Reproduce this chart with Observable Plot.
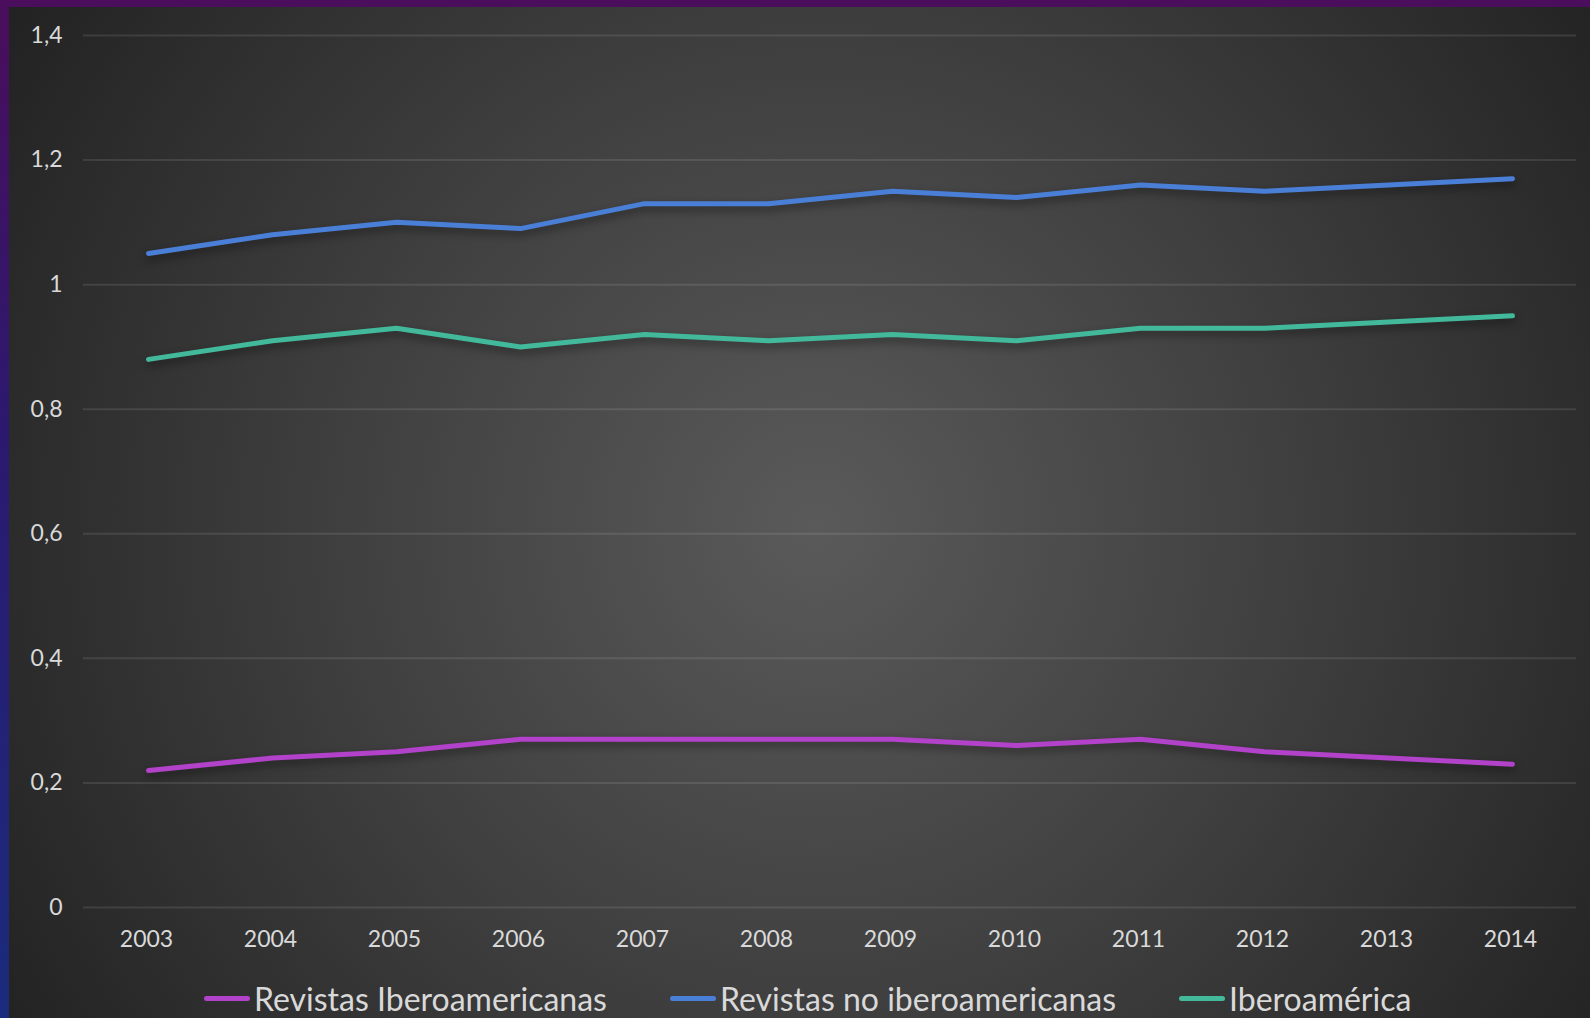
<!DOCTYPE html>
<html>
<head>
<meta charset="utf-8">
<script src="https://cdn.jsdelivr.net/npm/d3@7"></script>
<script src="https://cdn.jsdelivr.net/npm/@observablehq/plot@0.6"></script>
<style>
  html, body { margin: 0; padding: 0; background: #222; }
  #frame { position: relative; width: 1590px; height: 1018px; overflow: hidden;
    background: linear-gradient(to bottom, #4a0e5c 0%, #2a1a70 45%, #1b2b7d 100%); }
  #panel { position: absolute; left: 9px; top: 7px; width: 1581px; height: 1011px;
    background: radial-gradient(circle farthest-corner at 807px 520px, #5a5a5a 0%, #3f3f3f 50%, #222222 100%); }
  #chart { position: absolute; left: 0; top: 0; }
  #legend { position: absolute; left: 204px; top: 979px; display: flex; align-items: center;
    font-family: Lato, "Open Sans", sans-serif; font-size: 32px; color: #d9d9d9; gap: 63px; }
  .item { display: flex; align-items: center; }
  .sw { width: 46px; height: 5px; border-radius: 3px; margin-right: 4px; }
</style>
</head>
<body>
<div id="frame">
  <div id="panel"></div>
  <div id="chart"></div>
  <div id="legend"></div>
</div>
<script>
const years = ["2003","2004","2005","2006","2007","2008","2009","2010","2011","2012","2013","2014"];
const revistasIberoamericanas = [0.22,0.24,0.25,0.27,0.27,0.27,0.27,0.26,0.27,0.25,0.24,0.23];
const revistasNoIberoamericanas = [1.05,1.08,1.10,1.09,1.13,1.13,1.15,1.14,1.16,1.15,1.16,1.17];
const iberoamerica = [0.88,0.91,0.93,0.90,0.92,0.91,0.92,0.91,0.93,0.93,0.94,0.95];
const seriesNames = ["Revistas Iberoamericanas","Revistas no iberoamericanas","Iberoamérica"];
const seriesColors = ["#b142c9","#4a7fd8","#43b99b"];
const yTicks = [0,0.2,0.4,0.6,0.8,1,1.2,1.4];

const seriesValues = [revistasIberoamericanas, revistasNoIberoamericanas, iberoamerica];
const data = [];
seriesNames.forEach((name, i) => {
  years.forEach((y, j) => data.push({series: name, year: y, value: seriesValues[i][j]}));
});

const chart = Plot.plot({
  width: 1590,
  height: 960,
  marginLeft: 83,
  marginRight: 14,
  marginTop: 35,
  marginBottom: 53,
  style: {background: "transparent", color: "#d9d9d9", fontFamily: "Lato, 'Open Sans', sans-serif", fontSize: "23px"},
  x: {type: "point", domain: years, padding: 0.5, label: null},
  y: {domain: [0, 1.4], label: null},
  color: {domain: seriesNames, range: seriesColors},
  marks: [
    Plot.gridY(yTicks, {stroke: "#ffffff", strokeOpacity: 0.1, strokeWidth: 2}),
    Plot.axisY(yTicks, {tickSize: 0, tickPadding: 21, label: null, fill: "#d9d9d9",
      tickFormat: d => String(d).replace(".", ",")}),
    Plot.axisX({tickSize: 0, tickPadding: 23, label: null, fill: "#d9d9d9", dx: -2}),
    Plot.lineY(data, {x: "year", y: "value", z: "series", stroke: "series",
      strokeWidth: 5, strokeLinecap: "round", strokeLinejoin: "round"})
  ]
});
d3.select(chart).selectAll("g[aria-label=line]").style("filter", "drop-shadow(0px 4px 4px rgba(0,0,0,0.45))");
document.getElementById("chart").appendChild(chart);

const legend = document.getElementById("legend");
seriesNames.forEach((name, i) => {
  const item = document.createElement("div");
  item.className = "item";
  const sw = document.createElement("div");
  sw.className = "sw";
  sw.style.background = seriesColors[i];
  const label = document.createElement("span");
  label.textContent = name;
  item.appendChild(sw);
  item.appendChild(label);
  legend.appendChild(item);
});
</script>
</body>
</html>
